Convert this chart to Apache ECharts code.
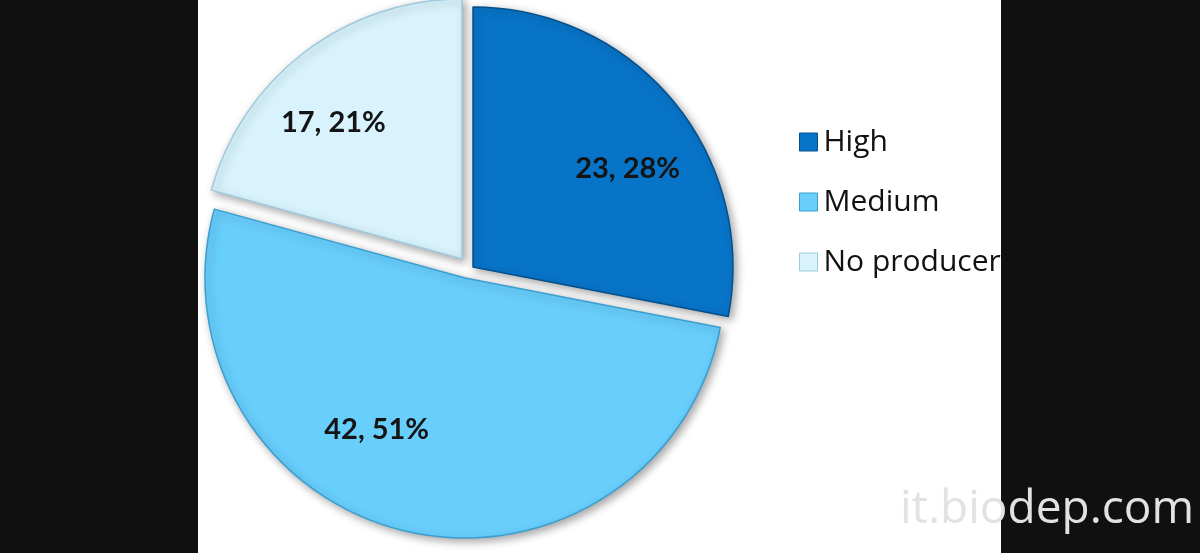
<!DOCTYPE html>
<html><head><meta charset="utf-8">
<script src="https://cdn.jsdelivr.net/npm/echarts@6/dist/echarts.min.js"></script>
<style>html,body{margin:0;padding:0;background:#fff}#c{width:1200px;height:553px}</style>
</head><body><div id="c"></div>
<script>
const categories = ['High', 'Medium', 'No producer'];
const values = [23, 42, 17];

const colors = ['#0874C8', '#68CEFC', '#D8F3FD'];
const borderColors = ['#04508c', '#3a9fd0', '#9fc9dc'];
const centers = [[473, 267], [465, 278], [462, 259]];
const labelShift = [[52, -14], [-58, 22], [-48, -31]];
const R = 260;

const chart = echarts.init(document.getElementById('c'), null, {renderer: 'canvas'});

const series = categories.map((cat, k) => ({
  type: 'pie',
  name: cat,
  center: centers[k],
  radius: [0, R],
  startAngle: 90,
  clockwise: true,
  percentPrecision: 0,
  silent: true,
  animation: false,
  z: 2 + k,
  labelLine: {show: false},
  labelLayout: (p) => p.dataIndex === k ? {dx: labelShift[k][0], dy: labelShift[k][1]} : {},
  data: categories.map((name, i) => ({
    name: name,
    value: values[i],
    itemStyle: i === k ? {
      color: colors[i],
      borderColor: borderColors[i],
      borderWidth: 1.5,
      shadowColor: 'rgba(0,0,0,0.35)',
      shadowBlur: 8,
      shadowOffsetX: 3,
      shadowOffsetY: 3
    } : {color: 'rgba(0,0,0,0)', borderWidth: 0, shadowBlur: 0},
    label: i === k ? {
      show: true,
      position: 'inside',
      formatter: (p) => p.value + ', ' + p.percent + '%',
      fontFamily: 'Lato',
      fontWeight: 'bold',
      fontSize: 29,
      color: '#141414'
    } : {show: false}
  }))
}));

chart.setOption({
  animation: false,
  backgroundColor: '#ffffff',
  legend: {
    orient: 'vertical',
    left: 794,
    top: 120,
    icon: 'rect',
    itemWidth: 18,
    itemHeight: 18,
    itemGap: 26,
    selectedMode: false,
    textStyle: {fontFamily: 'Open Sans', fontSize: 30, color: '#111', lineHeight: 34, padding: [0, 0, 0, 1]},
    data: categories.map((name, i) => ({
      name: name,
      itemStyle: {color: colors[i], borderColor: borderColors[i], borderWidth: 1}
    }))
  },
  series: series,
  graphic: [
    {type: 'rect', left: 0, top: 0, z: 100, shape: {width: 198, height: 553}, style: {fill: '#101010'}},
    {type: 'rect', left: 1001, top: 0, z: 100, shape: {width: 199, height: 553}, style: {fill: '#101010'}},
    {type: 'text', left: 900, top: 487, z: 110,
     style: {text: 'it.biodep.com', fontFamily: 'Open Sans', fontSize: 46, fill: '#e2e2e2',
             shadowColor: 'rgba(0,0,0,0.25)', shadowBlur: 2, shadowOffsetX: 0.5, shadowOffsetY: 0.5}}
  ]
});
</script></body></html>
